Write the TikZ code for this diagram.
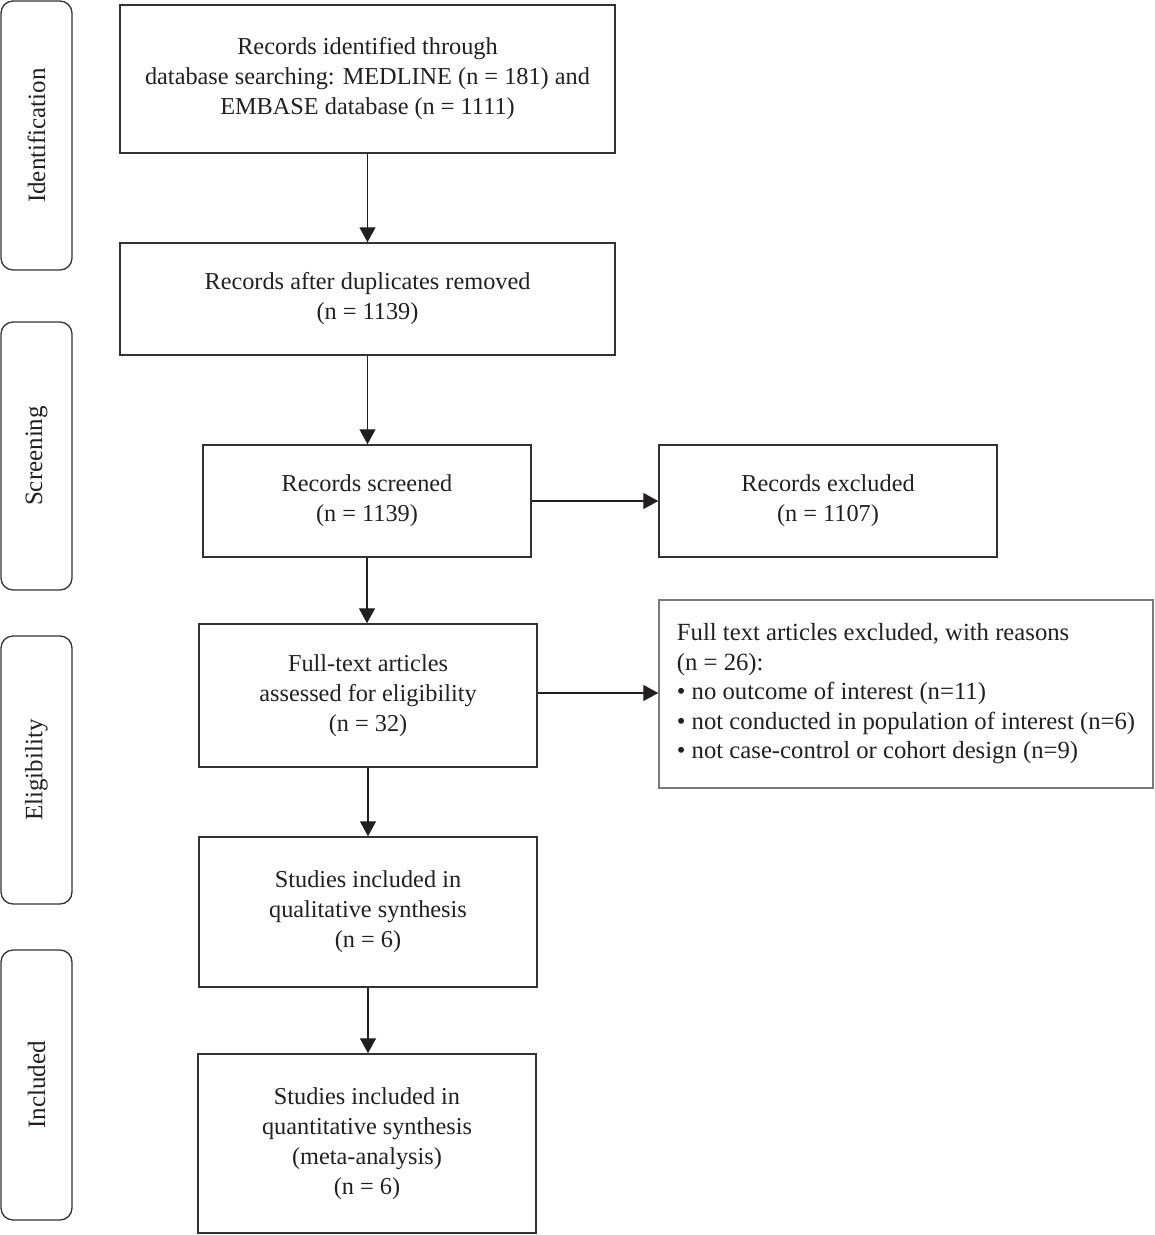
\documentclass[tikz,border=0pt]{standalone}
\usepackage{fontspec}
\setmainfont{Liberation Serif}
\usetikzlibrary{arrows.meta}
\definecolor{ink}{HTML}{231F20}
\definecolor{edge}{HTML}{333333}
\definecolor{lightedge}{HTML}{7A7A7A}
\begin{document}
\begin{tikzpicture}[x=1pt,y=-1pt,
  every node/.style={font=\fontsize{24.3}{30}\selectfont, text=ink},
  box/.style={draw=edge, line width=1.5pt, rectangle, align=center, inner sep=0pt},
  side/.style={draw=edge, line width=1.3pt, rectangle, rounded corners=12pt, inner sep=0pt, minimum width=71pt},
  sidetext/.style={rotate=90, font=\fontsize{25}{30}\selectfont},
  arr/.style={draw=ink, line width=1.4pt, -{Triangle[length=15pt,width=16pt]}}]
\useasboundingbox (0,0) rectangle (1155,1235);
% side labels
\node[side, minimum height=269pt] (s1) at (36.5,135.5) {};
\node[sidetext] at (s1.center) {Identification};
\node[side, minimum height=268pt] (s2) at (36.5,456) {};
\node[sidetext] at (s2.center) {Screening};
\node[side, minimum height=268pt] (s3) at (36.5,770) {};
\node[sidetext] at (s3.center) {Eligibility};
\node[side, minimum height=270pt] (s4) at (36.5,1085) {};
\node[sidetext] at (s4.center) {Included};
% main boxes
\node[box, minimum width=495pt, minimum height=148pt] (b1) at (367.5,79)
  {Records identified through\\database searching: MEDLINE (n = 181) and\\EMBASE database (n = 1111)};
\node[box, minimum width=495pt, minimum height=112pt] (b2) at (367.5,299)
  {Records after duplicates removed\\(n = 1139)};
\node[box, minimum width=328pt, minimum height=112pt] (b3) at (367,501)
  {Records screened\\(n = 1139)};
\node[box, minimum width=338pt, minimum height=112pt] (b4) at (828,501)
  {Records excluded\\(n = 1107)};
\node[box, minimum width=338pt, minimum height=143pt] (b5) at (368,695.5)
  {Full-text articles\\assessed for eligibility\\(n = 32)};
\node[box, draw=lightedge, minimum width=494pt, minimum height=188pt, align=left, font=\fontsize{24.7}{29.5}\selectfont] (b6) at (906,694)
  {Full text articles excluded, with reasons\\(n = 26):\\\textbullet\ no outcome of interest (n=11)\\\textbullet\ not conducted in population of interest (n=6)\\\textbullet\ not case-control or cohort design (n=9)};
\node[box, minimum width=338pt, minimum height=150pt] (b7) at (368,912)
  {Studies included in\\qualitative synthesis\\(n = 6)};
\node[box, minimum width=338pt, minimum height=179pt] (b8) at (367,1143.5)
  {Studies included in\\quantitative synthesis\\(meta-analysis)\\(n = 6)};
% connectors
\draw[arr] (b1.south) -- (b1.south |- b2.north);
\draw[arr] (b2.south) -- (b2.south |- b3.north);
\draw[arr] (b3.south) -- (b3.south |- b5.north);
\draw[arr] (b5.south) -- (b5.south |- b7.north);
\draw[arr] (b7.south) -- (b7.south |- b8.north);
\draw[arr] (b3.east) -- (b3.east -| b4.west);
\draw[arr] ([yshift=2.5pt]b5.east) -- ([yshift=2.5pt]b5.east -| b6.west);
\end{tikzpicture}
\end{document}
